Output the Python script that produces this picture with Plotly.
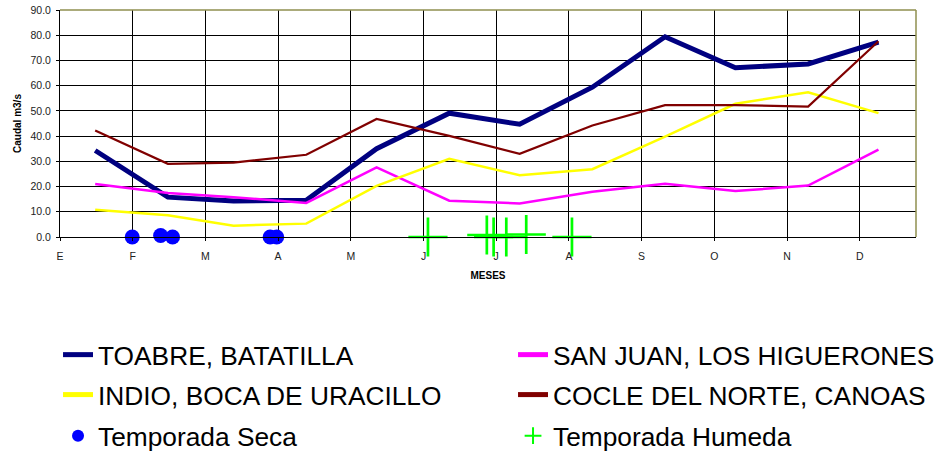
import plotly.graph_objects as go

# Day of year at which each monthly mean is plotted (mid-month)
dias = [15, 46, 74, 105, 135, 166, 196, 227, 258, 288, 319, 349]

# Monthly mean discharge (m3/s) per station
toabre = [34.3, 15.8, 14.3, 14.6, 35.0, 49.1, 44.7, 59.4, 79.4, 67.1, 68.6, 77.3]
san_juan = [21.0, 17.4, 15.8, 13.5, 27.6, 14.4, 13.3, 17.9, 21.1, 18.2, 20.4, 34.6]
indio = [10.8, 8.6, 4.5, 5.3, 20.3, 31.0, 24.5, 26.9, 39.8, 52.8, 57.4, 49.1]
cocle = [42.2, 29.0, 29.5, 32.6, 46.8, 40.1, 33.0, 44.2, 52.3, 52.3, 51.7, 77.6]

# Sampling dates (day of year) for each season
seca_dias = [30.8, 42.9, 48.0, 89.6, 92.4]
seca_valores = [0.0, 0.6, 0.0, 0.0, 0.0]
humeda_dias = [156.9, 182.0, 184.9, 190.3, 198.8, 218.3]
humeda_valores = [0.0, 0.8, 0.0, 0.0, 1.0, 0.0]

# Month ticks every 31 days
tick_dias = [0, 31, 62, 93, 124, 155, 186, 217, 248, 279, 310, 341]
tick_meses = ["E", "F", "M", "A", "M", "J", "J", "A", "S", "O", "N", "D"]

FONT = "Arial, Liberation Sans, sans-serif"
COL2_WIDTH = 385  # slot width of the right-hand legend column

fig = go.Figure()

fig.add_trace(go.Scatter(x=dias, y=toabre, mode="lines", name="TOABRE, BATATILLA",
                         line=dict(color="#000080", width=5), legend="legend"))
fig.add_trace(go.Scatter(x=dias, y=san_juan, mode="lines", name="SAN JUAN, LOS HIGUERONES",
                         line=dict(color="#FF00FF", width=2.5), legend="legend",
                         legendwidth=COL2_WIDTH))
fig.add_trace(go.Scatter(x=dias, y=indio, mode="lines", name="INDIO, BOCA DE URACILLO",
                         line=dict(color="#FFFF00", width=2.5), legend="legend2"))
fig.add_trace(go.Scatter(x=dias, y=cocle, mode="lines", name="COCLE DEL NORTE, CANOAS",
                         line=dict(color="#800000", width=2.2), legend="legend2",
                         legendwidth=COL2_WIDTH))
fig.add_trace(go.Scatter(x=seca_dias, y=seca_valores, mode="markers", name="Temporada Seca",
                         marker=dict(color="#0000FF", size=15, symbol="circle"),
                         cliponaxis=False, legend="legend3"))
fig.add_trace(go.Scatter(x=humeda_dias, y=humeda_valores, mode="markers", name="Temporada Humeda",
                         marker=dict(symbol="cross-thin", size=28,
                                     line=dict(color="#00FF00", width=2.7)),
                         cliponaxis=False, legend="legend3", legendwidth=COL2_WIDTH))

legend_common = dict(orientation="h", xanchor="left", yanchor="middle",
                     x=-0.0023, entrywidth=410, entrywidthmode="pixels",
                     font=dict(family=FONT, size=26.3, color="#000000"),
                     bgcolor="rgba(0,0,0,0)", borderwidth=0, itemsizing="constant")

fig.update_layout(
    width=940, height=452,
    margin=dict(l=60, r=24, t=10, b=215, autoexpand=False),
    paper_bgcolor="white", plot_bgcolor="white",
    font=dict(family=FONT, color="#000000"),
    legend=dict(legend_common, y=-0.52),
    legend2=dict(legend_common, y=-0.696),
    legend3=dict(legend_common, y=-0.877),
    xaxis=dict(
        range=[0, 365], tickmode="array", tickvals=tick_dias, ticktext=tick_meses,
        showgrid=True, gridcolor="#000000", gridwidth=1,
        showline=True, linecolor="#000000", linewidth=1,
        ticks="outside", ticklen=3, tickcolor="#000000", ticklabelstandoff=6,
        tickfont=dict(family=FONT, size=10.5, color="#222222"),
        zeroline=False,
        title=dict(text="<b>MESES</b>", font=dict(family=FONT, size=10, color="#000000"),
                   standoff=11),
    ),
    yaxis=dict(
        range=[0, 90], dtick=10, tickformat=".1f",
        showgrid=True, gridcolor="#000000", gridwidth=1,
        showline=True, linecolor="#000000", linewidth=1,
        ticks="outside", ticklen=3, tickcolor="#000000", ticklabelstandoff=3,
        tickfont=dict(family=FONT, size=10.5, color="#222222"),
        zeroline=False,
        title=dict(text="<b>Caudal m3/s</b>", font=dict(family=FONT, size=10, color="#000000"),
                   standoff=6),
    ),
    shapes=[
        dict(type="line", xref="paper", yref="paper", x0=0, x1=1, y0=1, y1=1,
             line=dict(color="#8f8f4f", width=1.5), layer="above"),
        dict(type="line", xref="paper", yref="paper", x0=1, x1=1, y0=0, y1=1,
             line=dict(color="#8f8f4f", width=1.5), layer="above"),
    ],
)

fig.write_html("out.html")
